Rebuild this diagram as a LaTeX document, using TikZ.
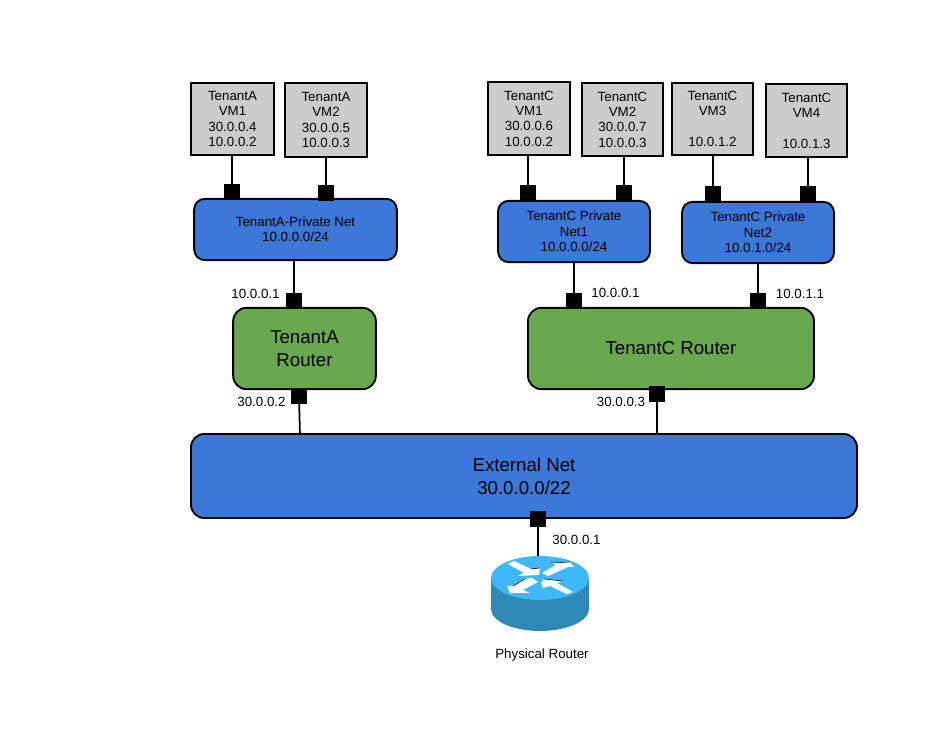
\documentclass[tikz,border=0pt]{standalone}
\usepackage{fontspec}
\setmainfont{Liberation Sans}
\definecolor{netblue}{HTML}{3C78D8}
\definecolor{rgreen}{HTML}{6AA84F}
\definecolor{vmgrey}{HTML}{CCCCCC}
\definecolor{rtop}{HTML}{3FB8F8}
\definecolor{rside}{HTML}{2E88B8}
\newcommand{\fsz}[2]{\fontsize{#1pt}{#2pt}\selectfont}
\tikzset{
 x=0.75pt,y=-0.75pt,
 vmbox/.style={draw=black,line width=1.5pt,fill=vmgrey,inner sep=0pt,align=center,font=\fsz{10}{11.5}},
 netbox/.style={draw=black,line width=1.4pt,fill=netblue,rounded corners=8pt,inner sep=0pt,align=center,font=\fsz{10}{11.5}},
 routerbox/.style={draw=black,line width=1.4pt,fill=rgreen,rounded corners=10pt,inner sep=0pt,align=center,font=\fsz{14}{17}},
 extbox/.style={draw=black,line width=1.4pt,fill=netblue,rounded corners=10pt,inner sep=0pt,align=center,font=\fsz{14}{17}},
 port/.style={fill=black,draw=none,minimum size=11pt,inner sep=0pt},
 wire/.style={line width=1.3pt},
 lbl/.style={inner sep=0pt,font=\fsz{10}{11}},
 shade line/.style={black,line width=0.4pt},
}
\begin{document}
\begin{tikzpicture}
\useasboundingbox (0,0) rectangle (940,730);
\coordinate (wA1) at (232,155); \coordinate (wA2) at (326,157);
\coordinate (wC1) at (528,155); \coordinate (wC2) at (624,156);
\coordinate (wC3) at (713,155); \coordinate (wC4) at (808,157);
\node[port] (pA1) at (232,192) {}; \node[port] (pA2) at (326,193) {};
\node[port] (pC1) at (528,193) {}; \node[port] (pC2) at (624,193) {};
\node[port] (pC3) at (713,194) {}; \node[port] (pC4) at (808,194) {};
\node[port] (pnA) at (294,301) {}; \node[port] (pnC1) at (574,301) {}; \node[port] (pnC2) at (758,301) {};
\node[port] (prA) at (299,396) {}; \node[port] (prC) at (657,394) {};
\node[port] (pX) at (538,519) {};
\foreach \a/\b in {wA1/pA1,wA2/pA2,wC1/pC1,wC2/pC2,wC3/pC3,wC4/pC4}
  \draw[wire] (\a) -- (\b);
\coordinate (nAb) at (294,260); \coordinate (nC1b) at (574,262); \coordinate (nC2b) at (758,263);
\coordinate (eA) at (300,436); \coordinate (eC) at (657,436); \coordinate (rt) at (538,560);
\foreach \a/\b in {nAb/pnA,nC1b/pnC1,nC2b/pnC2,eA/prA,eC/prC,rt/pX}
  \draw[wire] (\a) -- (\b);
\node[vmbox,minimum width=62pt,minimum height=54pt] (vA1) at (232.5,119) {TenantA\\VM1\\30.0.0.4\\10.0.0.2};
\node[vmbox,minimum width=61.5pt,minimum height=55pt] (vA2) at (326,120) {TenantA\\VM2\\30.0.0.5\\10.0.0.3};
\node[vmbox,minimum width=61.5pt,minimum height=55pt] (vC1) at (529,118.5) {TenantC\\VM1\\30.0.0.6\\10.0.0.2};
\node[vmbox,minimum width=61pt,minimum height=55pt] (vC2) at (622.5,119.5) {TenantC\\VM2\\30.0.0.7\\10.0.0.3};
\node[vmbox,minimum width=61pt,minimum height=54pt] (vC3) at (712.5,119) {TenantC\\VM3\\[11.5pt]10.0.1.2};
\node[vmbox,minimum width=61pt,minimum height=55pt] (vC4) at (806.5,120.5) {TenantC\\VM4\\[11.5pt]10.0.1.3};
\node[netbox,minimum width=152pt,minimum height=46pt] (nA) at (295.5,229.5) {TenantA-Private Net\\10.0.0.0/24};
\node[netbox,minimum width=114pt,minimum height=46pt] (nC1) at (574,231.5) {TenantC Private\\Net1\\10.0.0.0/24};
\node[netbox,minimum width=114pt,minimum height=46pt] (nC2) at (758,232.5) {TenantC Private\\Net2\\10.0.1.0/24};
\node[routerbox,minimum width=107pt,minimum height=61pt] (rA) at (304.5,348.5) {TenantA\\Router};
\node[routerbox,minimum width=214.5pt,minimum height=61pt] (rC) at (671,348.5) {TenantC Router};
\node[extbox,minimum width=499.5pt,minimum height=63pt] (ext) at (524,476) {External Net\\30.0.0.0/22};
\foreach \p in {pA1,pA2,pC1,pC2,pC3,pC4,pnA,pnC1,pnC2,prA,prC,pX}
  \fill (\p.south west) rectangle (\p.north east);
\node[lbl] (l1) at (255.5,294) {10.0.0.1};
\node[lbl] (l2) at (615.5,293) {10.0.0.1};
\node[lbl] (l3) at (800,294) {10.0.1.1};
\node[lbl] (l4) at (261.5,402) {30.0.0.2};
\node[lbl] (l5) at (621,402) {30.0.0.3};
\node[lbl] (l6) at (576.5,540) {30.0.0.1};
\node[lbl] (l7) at (542,655) {Physical Router};
\fill[rside] (491,578) -- (491,609) arc[start angle=180,end angle=0,x radius=49,y radius=22] -- (589,578) -- cycle;
\fill[rtop] (540,578) ellipse[x radius=49,y radius=22];
\fill[white] (508,564) -- (514,561) -- (531,569) -- (540,568) -- (539,575) -- (518,576) -- (524,573) -- cycle;
\fill[white] (542,573) -- (556,565) -- (551,563) -- (570,562) -- (574,567) -- (568,567) -- (548,576) -- cycle;
\fill[white] (507,586) -- (510,593) -- (530,593) -- (523,590) -- (538,582) -- (532,578) -- (525,579) -- (513,586) -- cycle;
\fill[white] (541,583) -- (544,579) -- (563,581) -- (557,583) -- (573,592) -- (567,594) -- (550,586) -- (543,588) -- cycle;
\draw[shade line] (531,569) -- (540,568);
\draw[shade line] (551,563) -- (570,562);
\draw[shade line] (513,586) -- (525,579);
\draw[shade line] (544,579) -- (563,581);
\end{tikzpicture}
\end{document}
